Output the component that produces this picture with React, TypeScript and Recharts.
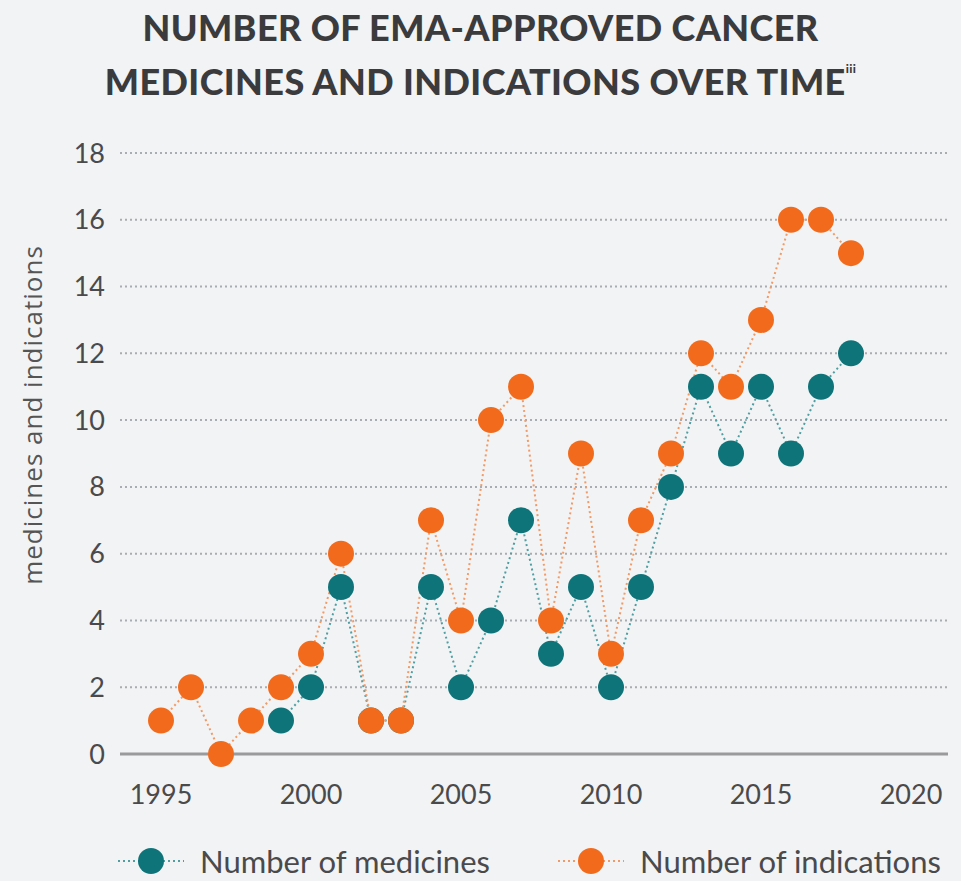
import React from 'react';
import { LineChart, Line, XAxis, YAxis, CartesianGrid } from 'recharts';

const years = [1995, 1996, 1997, 1998, 1999, 2000, 2001, 2002, 2003, 2004, 2005, 2006, 2007, 2008, 2009, 2010, 2011, 2012, 2013, 2014, 2015, 2016, 2017, 2018];
const medicines = [null, null, null, null, 1, 2, 5, 1, 1, 5, 2, 4, 7, 3, 5, 2, 5, 8, 11, 9, 11, 9, 11, 12];
const indications = [1, 2, 0, 1, 2, 3, 6, 1, 1, 7, 4, 10, 11, 4, 9, 3, 7, 9, 12, 11, 13, 16, 16, 15];
const xTicks = [1995, 2000, 2005, 2010, 2015, 2020];
const yTicks = [0, 2, 4, 6, 8, 10, 12, 14, 16, 18];

const TEAL = '#0e7479';
const ORANGE = '#f26b1d';

const data = years.map((year, i) => ({
  year,
  medicines: medicines[i],
  indications: indications[i],
}));

const LegendItem: React.FC<{ color: string; line: string; label: string; left: number }> = ({ color, line, label, left }) => (
  <div style={{ position: 'absolute', left, top: 0, height: 30, display: 'flex', alignItems: 'center', whiteSpace: 'nowrap' }}>
    <svg width={66} height={30}>
      <line x1={0} y1={15} x2={66} y2={15} stroke={line} strokeWidth={2} strokeDasharray="2 3" />
      <circle cx={33} cy={15} r={13} fill={color} />
    </svg>
    <span style={{ marginLeft: 16, lineHeight: '30px' }}>{label}</span>
  </div>
);

const App: React.FC = () => {
  return (
    <div style={{ position: 'absolute', left: 0, top: 0, width: 961, height: 881, background: '#f2f3f4', overflow: 'hidden' }}>
      <div
        style={{
          position: 'absolute',
          top: 0,
          left: 0,
          width: 961,
          textAlign: 'center',
          fontFamily: 'Lato, sans-serif',
          fontWeight: 900,
          fontSize: 36,
          lineHeight: '54px',
          color: '#3b3b3d',
          letterSpacing: 0.4,
        }}
      >
        NUMBER OF EMA-APPROVED CANCER
        <br />
        MEDICINES AND INDICATIONS OVER TIME<sup style={{ fontSize: 12, verticalAlign: 'top', lineHeight: '30px' }}>iii</sup>
      </div>
      <div
        style={{
          position: 'absolute',
          left: 32,
          top: 415,
          transform: 'translate(-50%, -50%) rotate(-90deg)',
          whiteSpace: 'nowrap',
          fontFamily: '"Open Sans", sans-serif',
          fontSize: 26,
          letterSpacing: 1,
          color: '#555',
        }}
      >
        medicines and indications
      </div>
      <div style={{ position: 'absolute', left: 0, top: 0 }}>
        <LineChart width={961} height={881} data={data} margin={{ top: 153, right: 13, bottom: 0, left: 0 }}>
          <CartesianGrid vertical={false} stroke="#a9acb0" strokeWidth={2} strokeDasharray="2 3" />
          <XAxis
            dataKey="year"
            type="number"
            domain={[1995, 2020]}
            ticks={xTicks}
            padding={{ left: 41, right: 37 }}
            height={127}
            tickLine={false}
            tickSize={0}
            tickMargin={31}
            axisLine={{ stroke: '#9a9a9c', strokeWidth: 3 }}
            tick={{ fill: '#4a4a4c', fontSize: 27, fontFamily: 'Lato, sans-serif' }}
          />
          <YAxis
            domain={[0, 18]}
            ticks={yTicks}
            width={120}
            tickLine={false}
            axisLine={false}
            tickSize={0}
            tickMargin={15}
            tick={{ fill: '#4a4a4c', fontSize: 27, fontFamily: 'Lato, sans-serif' }}
          />
          <Line
            dataKey="medicines"
            stroke="#4f9ea2"
            strokeWidth={2}
            strokeDasharray="2 3"
            dot={{ r: 13, fill: TEAL, stroke: 'none' }}
            isAnimationActive={false}
          />
          <Line
            dataKey="indications"
            stroke="#f29a66"
            strokeWidth={2}
            strokeDasharray="2 3"
            dot={{ r: 13, fill: ORANGE, stroke: 'none' }}
            isAnimationActive={false}
          />
        </LineChart>
      </div>
      <div
        style={{
          position: 'absolute',
          top: 846,
          left: 0,
          fontFamily: 'Lato, sans-serif',
          fontSize: 31,
          color: '#4a4a4c',
        }}
      >
        <LegendItem left={118} color={TEAL} line="#4f9ea2" label="Number of medicines" />
        <LegendItem left={558} color={ORANGE} line="#f29a66" label="Number of indications" />
      </div>
    </div>
  );
};

export default App;
